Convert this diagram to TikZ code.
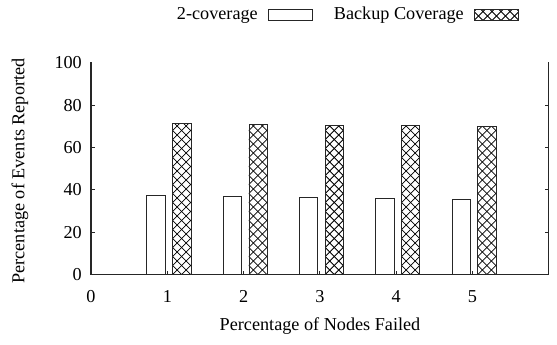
\documentclass[tikz,border=0pt]{standalone}
\usepackage{fontspec}
\setmainfont{Liberation Serif}
\begin{document}
\begin{tikzpicture}[x=1pt,y=-1pt,
  font=\fontsize{18.2}{20}\selectfont,
  axis/.style={line width=1.1pt, black!85, line cap=rect},
  tick/.style={line width=0.9pt, black!85},
  bar/.style={draw=black!85, line width=0.8pt, fill=white},
  hbar/.style={bar, path picture={
    \foreach \k in {-22,...,24}{
      \draw[line width=0.75pt, black] ([xshift=\k*9pt]path picture bounding box.south west) -- ++(180pt,180pt);
      \draw[line width=0.75pt, black] ([xshift=\k*9pt]path picture bounding box.south west) -- ++(-180pt,180pt);
    }}},
  lbl/.style={inner sep=0pt}]
\useasboundingbox (0,0) rectangle (557,345);
\fill[white] (0,0) rectangle (557,345);
% legend
\node[lbl, anchor=east] (k1) at (258,15) {2-coverage};
\draw[bar] (268,9.5) rectangle (312,20.5);
\node[lbl, anchor=east] (k2) at (464,15) {Backup Coverage};
\draw[hbar] (474,9.5) rectangle (518,20.5);
% plot
\begin{scope}[shift={(91,274.5)}, x=76.3pt, y=2.115pt]
  \foreach \i/\a/\b in {1/37.5/71.3, 2/36.8/71.1, 3/36.3/70.6, 4/35.9/70.3, 5/35.4/69.9}{
    \draw[bar] (\i-0.27,0) rectangle (\i-0.03,\a);
    \draw[hbar] (\i+0.07,0) rectangle (\i+0.31,\b);
  }
  \draw[line width=1.8pt, black!85] (0,0) -- (0.28,0);
  \draw[axis] (0,100) -- (0,0) -- (6,0) -- (6,100);
  \foreach \v in {20,40,60,80}{
    \draw[tick] (0,\v) -- ++(4pt,0);
    \draw[tick] (6,\v) -- ++(-4pt,0);
  }
  \foreach \v in {0,20,...,100}{
    \node[lbl, anchor=east] (y\v) at ([xshift=-9pt]0,\v) {\v};
  }
  \foreach \i in {1,...,5}{
    \draw[tick] (\i,0) -- ++(0,4pt);
  }
  \foreach \i in {0,...,5}{
    \node[lbl] (x\i) at ([yshift=-22pt]\i,0) {\i};
  }
\end{scope}
\node[lbl] (xl) at (320,326) {Percentage of Nodes Failed};
\node[lbl, rotate=90] (yl) at (20,171) {Percentage of Events Reported};
\end{tikzpicture}
\end{document}
